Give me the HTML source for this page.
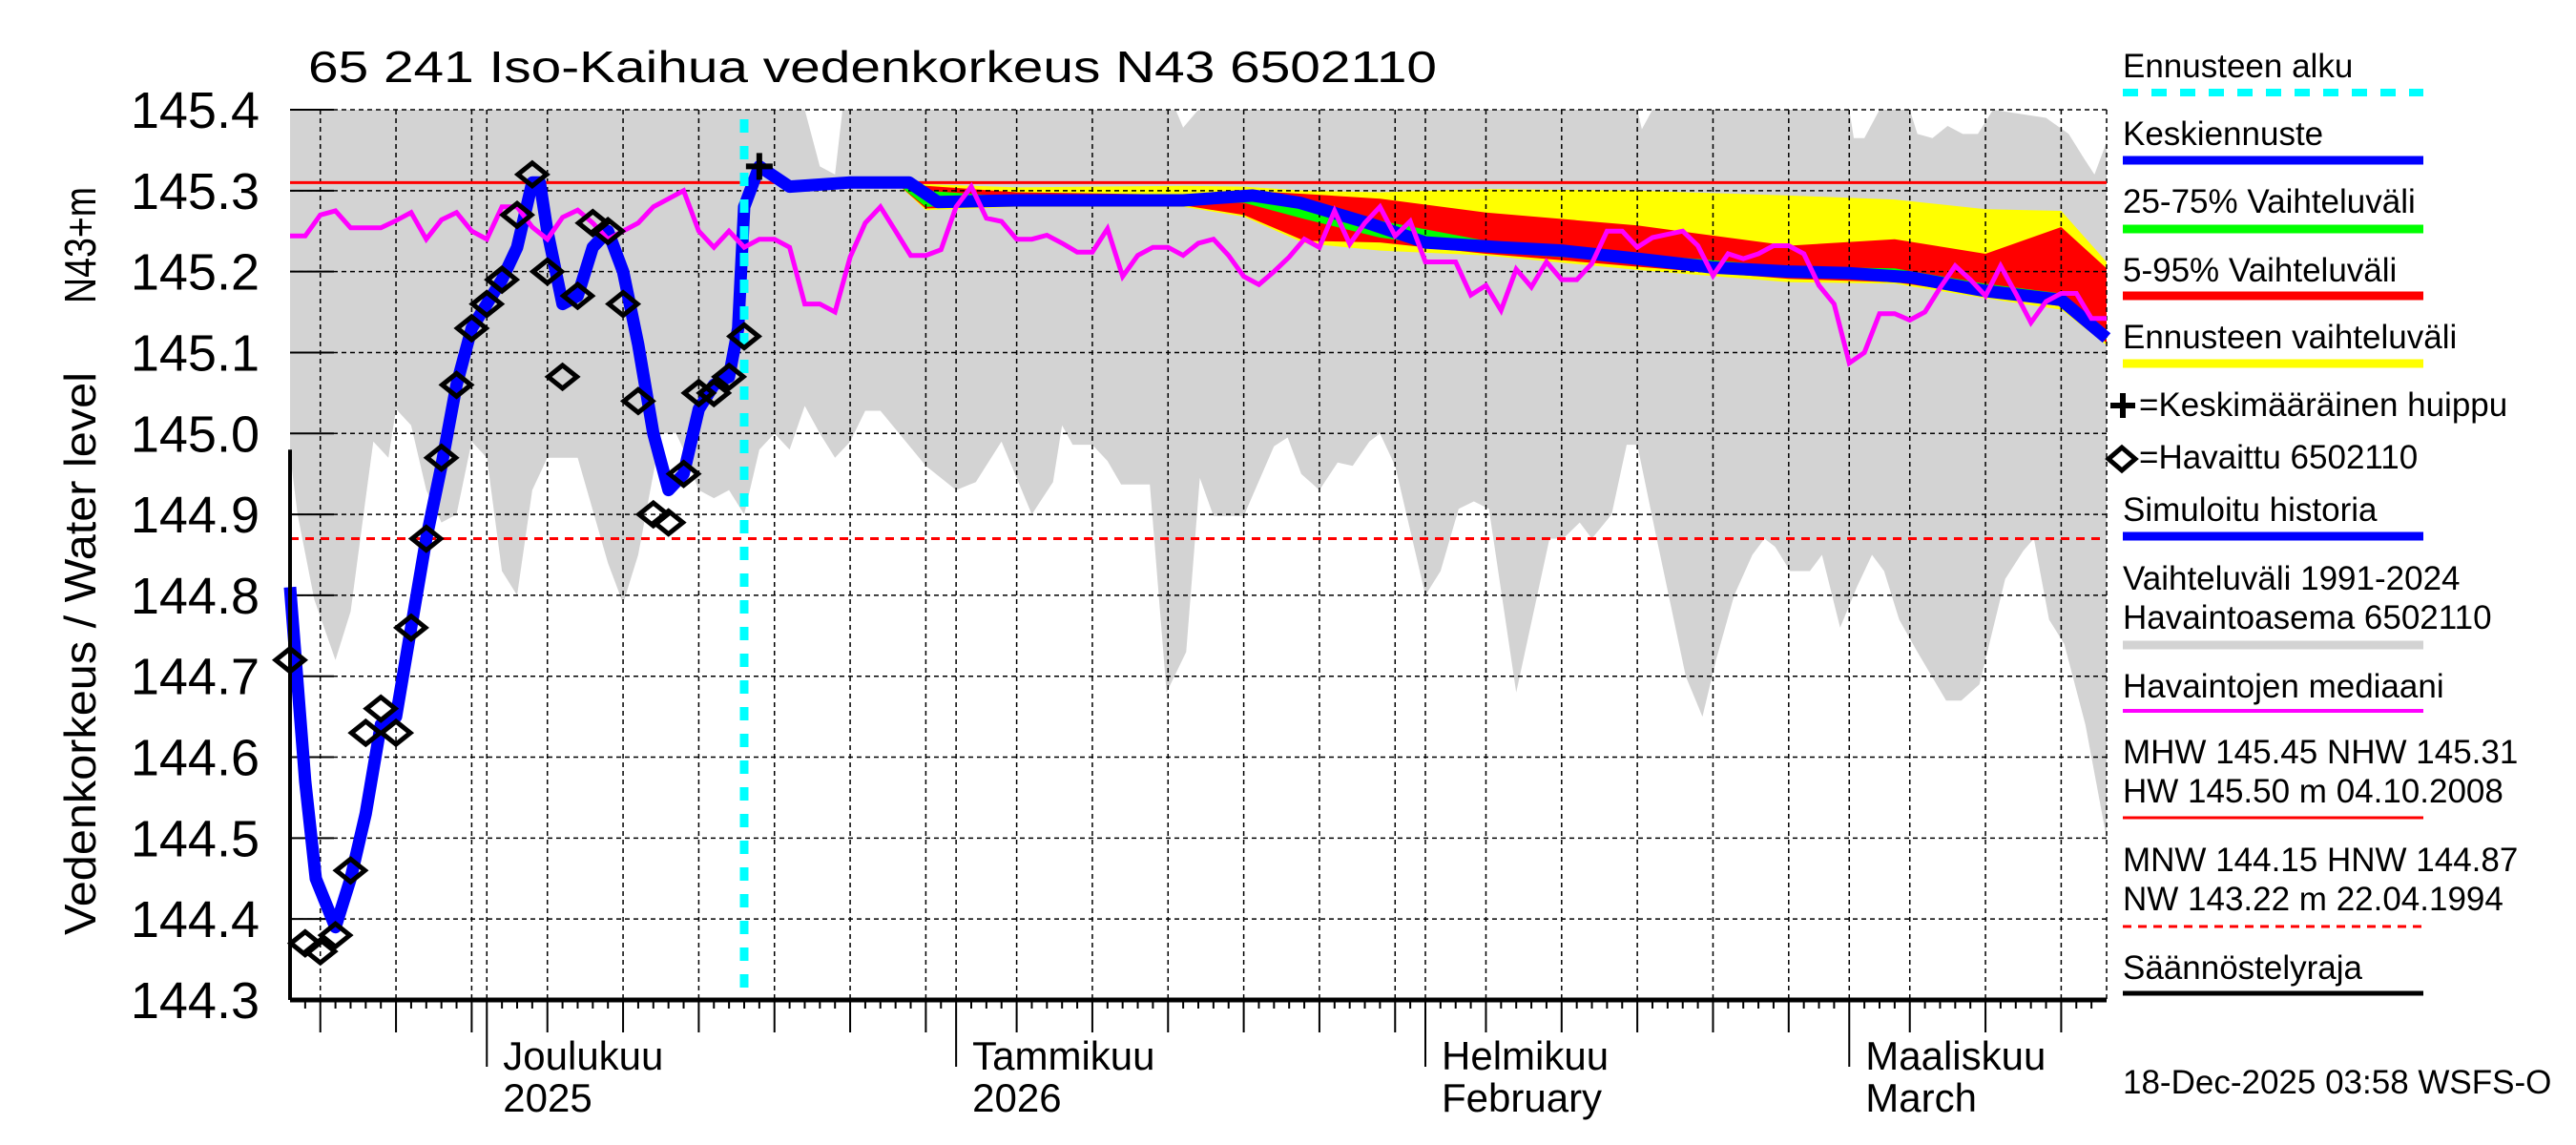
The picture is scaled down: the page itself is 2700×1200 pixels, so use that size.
<!DOCTYPE html>
<html><head><meta charset="utf-8"><style>
html,body{margin:0;padding:0;background:#fff;}
svg{display:block;font-family:"Liberation Sans",Arial,sans-serif;}
</style></head><body>
<svg id="chart" width="2700" height="1200" viewBox="0 0 2700 1200" xmlns="http://www.w3.org/2000/svg">
<rect x="0" y="0" width="2700" height="1200" fill="#fff"/>
<g id="plot"></g>
<text x="323" y="86" font-size="46" textLength="1183" lengthAdjust="spacingAndGlyphs">65 241 Iso-Kaihua vedenkorkeus N43 6502110</text>
<text transform="translate(100,980) rotate(-90)" font-size="46" textLength="590" lengthAdjust="spacingAndGlyphs">Vedenkorkeus / Water level</text>
<text transform="translate(100,318) rotate(-90)" font-size="46" textLength="122" lengthAdjust="spacingAndGlyphs">N43+m</text>
<g id="legend" font-size="35">
<text x="2225" y="81">Ennusteen alku</text>
<line x1="2225" y1="97" x2="2540" y2="97" stroke="#00ffff" stroke-width="8" stroke-dasharray="16,14"/>
<text x="2225" y="152">Keskiennuste</text>
<line x1="2225" y1="168" x2="2540" y2="168" stroke="#0000ff" stroke-width="9"/>
<text x="2225" y="223">25-75% Vaihteluväli</text>
<line x1="2225" y1="240" x2="2540" y2="240" stroke="#00ff00" stroke-width="9"/>
<text x="2225" y="295">5-95% Vaihteluväli</text>
<line x1="2225" y1="310" x2="2540" y2="310" stroke="#ff0000" stroke-width="9"/>
<text x="2225" y="365">Ennusteen vaihteluväli</text>
<line x1="2225" y1="381" x2="2540" y2="381" stroke="#ffff00" stroke-width="9"/>
<path d="M2212 425 h26 M2225 412 v26" stroke="#000" stroke-width="6"/>
<text x="2242" y="436">=Keskimääräinen huippu</text>
<path d="M2210 481 L2224 469 L2238 481 L2224 493 Z" fill="none" stroke="#000" stroke-width="5"/>
<text x="2242" y="491">=Havaittu 6502110</text>
<text x="2225" y="546">Simuloitu historia</text>
<line x1="2225" y1="562" x2="2540" y2="562" stroke="#0000ff" stroke-width="9"/>
<text x="2225" y="618">Vaihteluväli 1991-2024</text>
<text x="2225" y="659">Havaintoasema 6502110</text>
<line x1="2225" y1="676" x2="2540" y2="676" stroke="#d3d3d3" stroke-width="9"/>
<text x="2225" y="731">Havaintojen mediaani</text>
<line x1="2225" y1="745" x2="2540" y2="745" stroke="#ff00ff" stroke-width="4"/>
<text x="2225" y="800">MHW 145.45 NHW 145.31</text>
<text x="2225" y="841">HW 145.50 m 04.10.2008</text>
<line x1="2225" y1="857" x2="2540" y2="857" stroke="#ff0000" stroke-width="3"/>
<text x="2225" y="913">MNW 144.15 HNW 144.87</text>
<text x="2225" y="954">NW 143.22 m 22.04.1994</text>
<line x1="2225" y1="971" x2="2540" y2="971" stroke="#ff0000" stroke-width="3" stroke-dasharray="9,7"/>
<text x="2225" y="1026">Säännöstelyraja</text>
<line x1="2225" y1="1041" x2="2540" y2="1041" stroke="#000" stroke-width="5"/>
<text x="2225" y="1146">18-Dec-2025 03:58 WSFS-O</text>
</g>
</svg>
<script>
// ---- data ----
const obsValues = [144.72,144.37,144.36,144.38,144.46,144.63,144.66,144.63,144.76,144.87,144.97,145.06,145.13,145.16,145.19,145.27,145.32,145.20,145.07,145.17,145.26,145.25,145.16,145.04,144.90,144.89,144.95,145.05,145.05,145.07,145.12];
const medianValues = [145.244,145.244,145.27,145.275,145.254,145.254,145.254,145.263,145.273,145.24,145.264,145.273,145.25,145.24,145.28,145.28,145.255,145.24,145.267,145.276,145.26,145.24,145.25,145.26,145.28,145.29,145.30,145.25,145.23,145.25,145.23,145.24,145.24,145.23,145.16,145.16,145.15,145.218,145.26,145.28,145.25,145.22,145.22,145.227,145.28,145.305,145.266,145.262,145.24,145.24,145.245,145.235,145.224,145.224,145.253,145.194,145.22,145.23,145.23,145.22,145.235,145.24,145.22,145.194,145.184,145.20,145.218,145.24,145.23,145.275,145.234,145.26,145.28,145.244,145.262,145.212,145.212,145.212,145.171,145.183,145.152,145.203,145.181,145.212,145.19,145.19,145.21,145.25,145.25,145.23,145.242,145.246,145.25,145.232,145.195,145.222,145.216,145.222,145.232,145.232,145.222,145.183,145.16,145.087,145.10,145.148,145.148,145.14,145.15,145.18,145.207,145.19,145.17,145.207,145.173,145.137,145.163,145.173,145.173,145.142,145.142];
const simDays = [0,1,1.7,3,4,5,6,7,8,9,10,11,12,13,14,15,16,16.5,17,18,19,20,21,22,23,24,25,26,27,28,29,29.6,30,31,33,36.9,40.9,42.8,48,59,63.6,66.7,71.2,75,80,84,89,94,99,103,107,112,117,120];
const simValues = [144.81,144.57,144.45,144.39,144.45,144.53,144.64,144.65,144.76,144.87,144.96,145.06,145.13,145.16,145.19,145.23,145.31,145.31,145.25,145.16,145.17,145.23,145.25,145.20,145.11,145.00,144.93,144.95,145.03,145.06,145.07,145.13,145.28,145.33,145.305,145.31,145.31,145.286,145.288,145.288,145.294,145.285,145.26,145.236,145.23,145.226,145.216,145.205,145.2,145.198,145.193,145.176,145.165,145.118];
const bandDays = [40,42,48,59,63,67,72,79,89,99,106,112,117,120];
const yellowTop = [145.31,145.308,145.304,145.306,145.305,145.300,145.298,145.302,145.300,145.294,145.289,145.277,145.275,145.212];
const redTop = [145.31,145.306,145.298,145.295,145.300,145.296,145.290,145.273,145.257,145.232,145.240,145.222,145.255,145.204];
const greenTop = [145.31,145.300,145.292,145.292,145.295,145.280,145.263,145.238,145.222,145.206,145.204,145.185,145.173,145.128];
const greenBottom = [145.31,145.280,145.284,145.284,145.285,145.265,145.242,145.224,145.212,145.197,145.193,145.173,145.159,145.116];
const redBottom = [145.31,145.278,145.282,145.282,145.270,145.238,145.236,145.222,145.206,145.191,145.187,145.171,145.157,145.112];
const yellowBottom = [145.31,145.276,145.280,145.280,145.268,145.235,145.226,145.220,145.202,145.187,145.185,145.167,145.153,145.109];
const rangeUpDays = [0,34,35,36,36.5,58.5,59,60,89,89.3,90,103,103.3,104,105,107,107.5,108.5,109.5,110.5,111.5,112.5,116,117.5,118.5,119.2,120];
const rangeUpValues = [145.4,145.4,145.33,145.32,145.4,145.4,145.378,145.4,145.4,145.376,145.4,145.4,145.365,145.365,145.4,145.4,145.37,145.365,145.38,145.37,145.37,145.4,145.39,145.37,145.34,145.32,145.36];
const rangeLowDays = [0,0.5,1.6,3,4,5,5.5,6.5,7,8,9,10,11,12,13,14,15,16,17,19,21,22,23,24.5,25.5,26,27,28,29,30,31,32,33,34,35,36,37,38,39,42,44,45.3,47,49,50.4,51,51.7,53,54,54.9,56.8,57.9,59.2,60.1,61,63,65,65.9,66.8,68,69.2,70.2,71.3,72,73,75,76,77.2,78.2,79.2,81,83.2,84.1,85.2,86,87.3,88.3,89,90.2,92.2,93.3,94.2,95.4,96.6,97.4,98.1,99.1,100.4,101.2,102.4,103.5,104.5,105.3,106.3,107.5,109.4,110.4,111.6,113.3,114.5,115.2,116.2,117.2,118.6,120];
const rangeLowValues = [144.975,144.9,144.795,144.72,144.78,144.92,144.99,144.97,145.03,145.01,144.93,144.89,144.90,144.99,144.97,144.83,144.80,144.93,144.97,144.97,144.84,144.79,144.85,145.0,145.0,144.98,144.93,144.92,144.93,144.90,144.98,145.0,144.98,145.034,145.0,144.97,144.99,145.028,145.028,144.96,144.93,144.94,144.99,144.9,144.94,145.01,144.986,144.986,144.966,144.937,144.937,144.68,144.73,144.945,144.898,144.898,144.984,144.995,144.95,144.93,144.964,144.96,144.99,145.0,144.96,144.8,144.83,144.907,144.916,144.907,144.68,144.87,144.87,144.89,144.87,144.9,144.986,144.986,144.877,144.70,144.65,144.72,144.80,144.85,144.87,144.86,144.83,144.83,144.85,144.76,144.81,144.85,144.83,144.77,144.73,144.67,144.67,144.69,144.82,144.855,144.87,144.77,144.74,144.64,144.50];
const yTicks = [144.3,144.4,144.5,144.6,144.7,144.8,144.9,145.0,145.1,145.2,145.3,145.4];
const yTickLabels = ["144.3","144.4","144.5","144.6","144.7","144.8","144.9","145.0","145.1","145.2","145.3","145.4"];
const monthStartDays = [13,44,75,103];
const monthNames = ["Joulukuu","Tammikuu","Helmikuu","Maaliskuu"];
const monthSub = ["2025","2026","February","March"];
const gridDays = [2,7,12,17,22,27,32,37,42,48,53,58,63,68,73,79,84,89,94,99,107,112,117];
const forecastStartDay = 30;
const peakDay = 31, peakValue = 145.33;
const hwLevel = 145.31, lwLevel = 144.87;

// ---- axes ----
const X0 = 304, X1 = 2208, DAYS = 120;
const Y0 = 115, Y1 = 1048, VMAX = 145.4, VMIN = 144.3;
function xOf(d){ return X0 + d * (X1 - X0) / DAYS; }
function yOf(v){ return Y0 + (VMAX - v) * (Y1 - Y0) / (VMAX - VMIN); }

const NS = "http://www.w3.org/2000/svg";
const plot = document.getElementById("plot");
function mk(tag, attrs){ const e = document.createElementNS(NS, tag); for (const k in attrs) e.setAttribute(k, attrs[k]); plot.appendChild(e); return e; }
function pts(ds, vs){ return ds.map((d,i)=> xOf(d).toFixed(1)+","+yOf(vs[i]).toFixed(1)); }

let rp = pts(rangeUpDays, rangeUpValues).concat(pts(rangeLowDays, rangeLowValues).reverse());
let rangePoly = mk("polygon", {points: rp.join(" "), fill: "#d3d3d3"});



function band(top, bot, color, name){
  const p = pts(bandDays, top).concat(pts(bandDays, bot).reverse());
  const e = mk("polygon", {points: p.join(" "), fill: color});
  
  
}
band(yellowTop, yellowBottom, "#ffff00", "forecast-range-band");
band(redTop, redBottom, "#ff0000", "band-5-95");
band(greenTop, greenBottom, "#00ff00", "band-25-75");

for (let i = 0; i < yTicks.length; i++){
  const y = yOf(yTicks[i]);
  if (i > 0){
    const g = mk("line", {x1: X0, x2: X1, y1: y, y2: y, stroke: "#000", "stroke-width": 1.5, "stroke-dasharray": "5,4"});
    
    
  }
  const t = mk("line", {x1: X0, x2: X0 + 46, y1: y, y2: y, stroke: "#000", "stroke-width": 2});
  
  
  const lb = mk("text", {x: 272, y: y + 19, "font-size": 54, "text-anchor": "end"});
  lb.textContent = yTickLabels[i];
  
  
}
for (const d of gridDays.concat(monthStartDays)){
  const g = mk("line", {x1: xOf(d), x2: xOf(d), y1: Y0, y2: Y1, stroke: "#000", "stroke-width": 1.5, "stroke-dasharray": "5,4"});
  
  
}
const rb = mk("line", {x1: X1, x2: X1, y1: Y0, y2: Y1, stroke: "#000", "stroke-width": 1.5, "stroke-dasharray": "5,4"});



const hw = mk("line", {x1: X0, x2: X1, y1: yOf(hwLevel), y2: yOf(hwLevel), stroke: "#ff0000", "stroke-width": 3});


const lw = mk("line", {x1: X0, x2: X1, y1: yOf(lwLevel), y2: yOf(lwLevel), stroke: "#ff0000", "stroke-width": 3, "stroke-dasharray": "9,7"});



const sim = mk("polyline", {points: pts(simDays, simValues).join(" "), fill: "none", stroke: "#0000ff", "stroke-width": 13, "stroke-linejoin": "round"});



const medDays = medianValues.map((v,i)=>i);
const med = mk("polyline", {points: pts(medDays, medianValues).join(" "), fill: "none", stroke: "#ff00ff", "stroke-width": 5});



const fs = mk("line", {x1: xOf(forecastStartDay), x2: xOf(forecastStartDay), y1: Y0 + 10, y2: Y1, stroke: "#00ffff", "stroke-width": 9, "stroke-dasharray": "14,14"});



for (let i = 0; i < obsValues.length; i++){
  const x = xOf(i), y = yOf(obsValues[i]);
  const dm = mk("path", {d: `M${x-15} ${y} L${x} ${y-12} L${x+15} ${y} L${x} ${y+12} Z`, fill: "none", stroke: "#000", "stroke-width": 5});
  
  
}
const px = xOf(peakDay), py = yOf(peakValue);
const pk = mk("path", {d: `M${px-14} ${py} h28 M${px} ${py-14} v28`, stroke: "#000", "stroke-width": 6});



const ax = mk("line", {x1: X0, x2: X1, y1: Y1, y2: Y1, stroke: "#000", "stroke-width": 5});


const ay = mk("line", {x1: X0, x2: X0, y1: yOf(144.98), y2: Y1, stroke: "#000", "stroke-width": 4});


for (let d = 1; d < DAYS; d++){
  let len = 9;
  if (gridDays.includes(d)) len = 34;
  if (monthStartDays.includes(d)) len = 70;
  const t = mk("line", {x1: xOf(d), x2: xOf(d), y1: Y1, y2: Y1 + len, stroke: "#000", "stroke-width": 2});
  
  
}
for (let i = 0; i < monthStartDays.length; i++){
  const x = xOf(monthStartDays[i]) + 17;
  const a = mk("text", {x: x, y: 1121, "font-size": 42});
  a.textContent = monthNames[i];
  
  
  const b = mk("text", {x: x, y: 1165, "font-size": 42});
  b.textContent = monthSub[i];
  
  
}
</script>
</body></html>
